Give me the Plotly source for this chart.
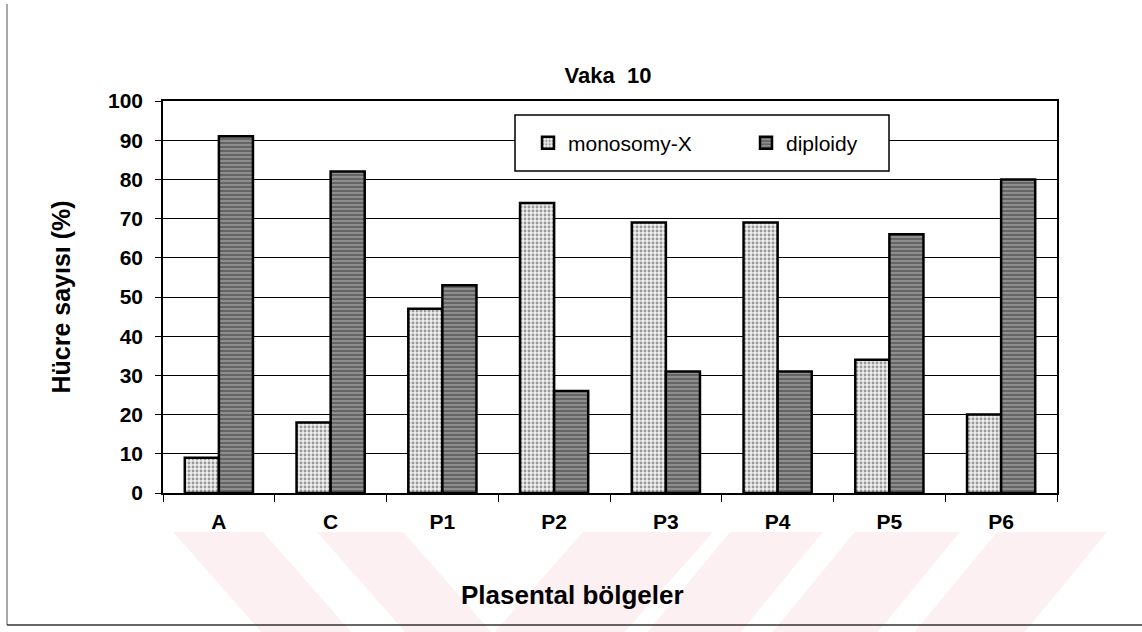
import plotly.graph_objects as go

categories = ["A", "C", "P1", "P2", "P3", "P4", "P5", "P6"]
monosomy_x = [9, 18, 47, 74, 69, 69, 34, 20]
diploidy = [91, 82, 53, 26, 31, 31, 66, 80]
series_names = ["monosomy-X", "diploidy"]

W, H = 1142, 632
ML, MR, MT, MB = 163, 85, 101, 139
PW, PH = W - ML - MR, H - MT - MB

def px(x):
    return (x - ML) / PW

def py(y):
    return (H - MB - y) / PH

FONT = "Liberation Sans, Arial, sans-serif"

fig = go.Figure()
fig.add_trace(go.Bar(
    x=categories, y=monosomy_x, name=series_names[0],
    marker=dict(color="#e4e4e4", line=dict(color="black", width=2.5),
                pattern=dict(shape=".", fgcolor="#444", bgcolor="#eeeeee", size=4, solidity=0.4)),
))
fig.add_trace(go.Bar(
    x=categories, y=diploidy, name=series_names[1],
    marker=dict(color="#808080", line=dict(color="black", width=2.5),
                pattern=dict(shape="-", fgcolor="#333333", bgcolor="#8e8e8e", size=4, solidity=0.45)),
))

shapes = []
# watermark stripes (pixel coords -> paper)
stripes = [
    ((173, 263), (263, 353)),
    ((317, 403), (407, 493)),
    ((583, 713), (493, 623)),
    ((730, 823), (646, 739)),
    ((855, 960), (771, 876)),
    ((997, 1107), (913, 1023)),
]
ytop, ybot = 532, 634
for (t0, t1), (b0, b1) in stripes:
    path = (f"M {px(t0)},{py(ytop)} L {px(t1)},{py(ytop)} "
            f"L {px(b1)},{py(ybot)} L {px(b0)},{py(ybot)} Z")
    shapes.append(dict(type="path", path=path, xref="paper", yref="paper",
                       fillcolor="#fdf0f2", line=dict(width=0), layer="below"))
# outer frame lines
shapes.append(dict(type="line", xref="paper", yref="paper", x0=px(7), x1=px(7),
                   y0=py(4), y1=py(625), line=dict(color="#555", width=1)))
shapes.append(dict(type="line", xref="paper", yref="paper", x0=px(7), x1=px(1142),
                   y0=py(625), y1=py(625), line=dict(color="#333", width=1.5)))
# legend box
shapes.append(dict(type="rect", xref="paper", yref="paper", x0=px(515), x1=px(889),
                   y0=py(171), y1=py(115), fillcolor="white",
                   line=dict(color="black", width=1.5), layer="above"))

fig.update_layout(
    width=W, height=H,
    margin=dict(l=ML, r=MR, t=MT, b=MB),
    paper_bgcolor="white", plot_bgcolor="rgba(0,0,0,0)",
    barmode="group", bargap=0.39, bargroupgap=0,
    font=dict(family=FONT, color="black"),
    title=dict(text="<b>Vaka  10</b>", x=px(608), xref="paper", xanchor="center",
               y=1 - 75 / H, yref="container", yanchor="middle",
               font=dict(size=22, family=FONT, color="black")),
    showlegend=True,
    legend=dict(orientation="h", x=px(528), y=py(143), xanchor="left", yanchor="middle",
                bgcolor="rgba(0,0,0,0)", borderwidth=0, entrywidth=173,
                font=dict(size=21, family=FONT, color="black"),
                itemwidth=30, traceorder="normal"),
    shapes=shapes,
    annotations=[dict(text="<b>Plasental bölgeler</b>", xref="paper", yref="paper",
                      x=px(572), y=py(595), xanchor="center", yanchor="middle",
                      showarrow=False, font=dict(size=26, family=FONT, color="black"))],
)
fig.update_xaxes(
    showline=True, linecolor="black", linewidth=2, mirror=True,
    ticks="outside", tickson="boundaries", ticklen=7, tickcolor="black",
    tickfont=dict(size=21, family=FONT, weight="bold"),
    ticklabelstandoff=9,
    showgrid=False,
)
fig.update_yaxes(
    range=[0, 100], dtick=10, showline=True, linecolor="black", linewidth=1.5, mirror=True,
    ticks="outside", ticklen=6, tickcolor="black",
    tickfont=dict(size=21, family=FONT, weight="bold"),
    ticklabelstandoff=8,
    showgrid=True, gridcolor="black", gridwidth=1, zeroline=False,
    title=dict(text="<b>Hücre sayısı (%)</b>", font=dict(size=25, family=FONT), standoff=30),
)

fig.write_html("out.html", config={"displayModeBar": False},
               post_script="document.body.style.margin='0';document.body.style.overflow='hidden';")
